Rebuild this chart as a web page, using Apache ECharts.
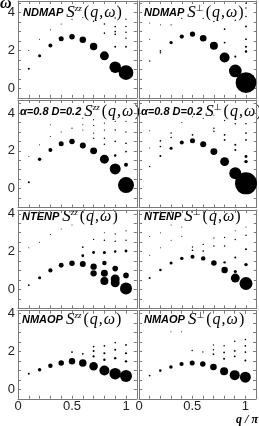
<!DOCTYPE html>
<html><head><meta charset="utf-8">
<script src="https://cdn.jsdelivr.net/npm/echarts@6/dist/echarts.min.js"></script>
<style>html,body{margin:0;padding:0;background:#fff}#c{width:259px;height:426px}</style>
</head><body><div id="c"></div>
<script>
// tick labels
const qTickLabels = [0, 0.5, 1];
const wTickLabels = [0, 2, 4];
// panel names
const models = ['NDMAP', 'NDMAP', 'α=0.8 D=0.2', 'α=0.8 D=0.2', 'NTENP', 'NTENP', 'NMAOP', 'NMAOP'];
const components = ['zz', '⊥', 'zz', '⊥', 'zz', '⊥', 'zz', '⊥'];
// points: [q/pi, omega, spectral weight]
const ndmapZZ = [
  [0.1,1.03,1],[0.2,1.72,2.3],[0.3,2.27,4],[0.4,2.62,6.3],[0.5,2.73,7.6],[0.6,2.57,10.5],[0.7,2.21,14],[0.8,1.72,20],[0.9,1.12,33],[1.0,0.83,54],
  [0.1,2.0,0.3],[0.2,2.6,0.3],[0.3,3.1,0.3],[0.4,3.4,0.3],[0.5,3.65,0.3],[0.6,3.75,0.3],[0.7,3.55,0.5],[0.8,3.4,0.6],[0.8,2.92,0.6],
  [0.9,3.72,0.5],[0.9,3.27,0.7],[0.9,3.0,0.7],[0.9,2.86,0.7],[0.9,2.2,0.8],
  [1.0,3.66,0.5],[1.0,3.27,0.6],[1.0,2.96,0.6],[1.0,2.65,0.6],[1.0,2.2,0.8]
];
const ndmapPerp = [
  [0.1,1.45,0.6],[0.2,1.98,0.6],[0.2,1.88,0.6],[0.3,2.42,2.7],[0.4,2.74,4.6],[0.5,2.87,7],[0.6,2.65,11],[0.7,2.25,16],[0.8,1.63,25],[0.9,0.92,40],[1.0,0.3,107],
  [0.1,3.45,0.2],[0.1,2.6,0.2],[0.2,3.36,0.3],[0.3,3.36,0.4],[0.4,3.7,0.3],[0.5,3.8,0.3],[0.6,3.7,0.3],[0.7,3.54,0.5],[0.8,3.13,0.7],[0.8,2.42,0.8],
  [0.9,3.6,0.5],[0.9,1.68,1.2],[1.0,4.5,0.5],[1.0,4.25,0.5],[1.0,3.8,0.6],[1.0,3.27,0.8],[1.0,2.6,0.8],[1.0,2.2,1.2],[1.0,1.95,1.5]
];
const anisoZZ = [
  [0.1,0.34,1],[0.2,1.56,3],[0.3,2.05,4],[0.4,2.37,6.3],[0.5,2.5,7.6],[0.6,2.28,9],[0.7,2.0,12],[0.8,1.56,20],[0.9,1.04,30],[1.0,0.19,64],
  [0.9,1.75,1.5],[1.0,1.26,4],
  [0.1,1.7,0.2],[0.2,2.32,0.3],[0.3,2.76,0.3],[0.3,3.38,0.2],[0.4,3.0,0.3],[0.5,3.2,0.3],[0.6,3.73,0.3],[0.6,3.38,0.3],[0.6,3.1,0.3],
  [0.7,3.65,0.3],[0.7,3.35,0.4],[0.7,2.94,0.4],[0.7,2.67,0.5],[0.8,3.47,0.4],[0.8,3.1,0.4],[0.8,2.67,0.5],[0.8,2.35,0.6],
  [0.9,3.56,0.4],[0.9,3.1,0.5],[0.9,2.5,0.6],[1.0,3.56,0.4],[1.0,3.0,0.5],[1.0,2.4,0.7],[1.0,1.96,0.8]
];
const anisoPerp = [
  [0.1,1.17,0.56],[0.2,1.73,1],[0.3,2.14,2.3],[0.4,2.44,4],[0.5,2.53,6.3],[0.6,2.35,9],[0.7,1.96,12],[0.8,1.43,20],[0.9,0.81,36],[1.0,0.28,121],
  [0.1,3.06,0.2],[0.1,2.15,0.2],[0.2,2.53,0.7],[0.2,2.23,0.7],[0.3,2.94,0.6],[0.3,2.71,0.6],[0.4,3.5,0.2],[0.5,2.85,0.8],[0.5,3.8,0.2],[0.6,3.72,0.3],
  [0.7,3.2,0.6],[0.7,3.03,0.6],[0.7,3.9,0.3],[0.8,3.6,0.5],[0.8,2.85,0.8],[0.8,2.58,0.8],[0.9,3.43,0.6],[0.9,2.32,1],[0.9,2.05,1],
  [1.0,3.43,0.6],[1.0,2.94,0.8],[1.0,2.58,0.8],[1.0,1.7,2],[1.0,1.43,3]
];
const ntenpZZ = [
  [0.1,0.22,0.8],[0.2,0.62,2.3],[0.3,1.0,4.5],[0.4,1.28,6],[0.5,1.38,7.5],[0.6,1.34,9],[0.7,1.2,10],[0.7,0.85,10],[0.8,0.85,12],[0.8,0.45,16],[0.9,0.55,20],[0.9,0.35,20],[1.0,0.05,36],
  [0.6,1.78,2],[0.6,2.24,0.8],[0.7,1.95,2],[0.7,2.64,0.4],[0.8,1.4,5],[0.8,1.95,2.5],[0.8,2.6,0.6],[0.8,3.0,0.3],
  [0.9,1.1,8],[0.9,2.0,1.5],[0.9,2.55,0.6],[0.9,2.93,0.4],[1.0,0.74,8],[1.0,2.03,2],[1.0,2.6,0.6],[1.0,3.1,0.4],
  [0.1,2.2,0.2],[0.2,2.5,0.2],[0.3,2.9,0.2],[0.4,3.2,0.2],[0.5,3.4,0.2]
];
const ntenpPerp = [
  [0.1,0.6,1],[0.2,1.03,1.6],[0.3,1.4,2.3],[0.4,1.64,3],[0.5,1.72,4],[0.6,1.64,5],[0.7,1.4,7.6],[0.8,1.03,10.5],[0.9,0.6,20],[1.0,0.31,42],
  [0.5,2.07,0.7],[0.5,2.24,0.5],[0.6,2.03,0.7],[0.6,2.38,0.5],[0.7,2.3,0.6],[0.7,2.72,0.4],[0.8,1.43,1.5],[0.8,2.3,0.6],[0.8,2.75,0.4],
  [0.9,0.95,2.3],[0.9,1.69,1],[0.9,2.64,0.5],[0.9,3.1,0.3],[1.0,1.31,3],[1.0,2.12,1],[1.0,2.86,0.6],[1.0,3.3,0.3],
  [0.1,1.8,0.1],[0.1,2.8,0.1],[0.2,2.2,0.1],[0.2,3.0,0.1],[0.3,2.6,0.1],[0.3,3.4,0.1],[0.4,2.8,0.1],[0.4,3.3,0.1]
];
const nmaopZZ = [
  [0.1,0.83,1],[0.2,1.04,3],[0.3,1.25,5],[0.4,1.39,7.6],[0.5,1.48,10.5],[0.6,1.39,14],[0.7,1.22,18],[0.8,1.0,25],[0.9,0.83,33],[1.0,0.7,36],
  [0.5,1.97,0.8],[0.6,1.88,0.8],[0.7,2.26,0.8],[0.7,2.03,1],[0.7,1.74,1.3],[0.8,2.3,0.8],[0.8,1.91,1.2],[0.8,1.57,1.5],
  [0.9,2.47,0.6],[0.9,2.09,1],[0.9,1.65,1.5],[1.0,2.35,0.8],[1.0,1.91,1.2],[1.0,1.48,1.5]
];
const nmaopPerp = [
  [0.1,0.73,0.8],[0.2,0.99,1.6],[0.3,1.18,3],[0.4,1.34,4.5],[0.5,1.39,6.3],[0.6,1.34,7.6],[0.7,1.18,11],[0.8,0.96,16],[0.9,0.75,25],[1.0,0.64,30],
  [0.3,3.04,0.1],[0.4,3.04,0.1],[0.5,2.05,0.5],[0.6,1.98,0.5],[0.7,2.35,0.5],[0.7,2.09,0.6],[0.7,1.86,0.7],[0.8,2.31,0.6],[0.8,1.95,0.8],[0.8,1.62,1],
  [0.9,2.54,0.6],[0.9,2.03,0.8],[0.9,1.74,0.8],[1.0,2.64,0.6],[1.0,2.3,0.8],[1.0,1.97,0.8],[1.0,1.53,1]
];
const panelData = [ndmapZZ, ndmapPerp, anisoZZ, anisoPerp, ntenpZZ, ntenpPerp, nmaopZZ, nmaopPerp];

// ---- layout (pixels) ----
const colLeft = [18, 139];
const colPx = [108, 107];           // px per unit q
const xMax = 1.1;
const pxPerW = 18.9;
const rows = [
  {top: 1,     min: -0.5, max: 4.62, titleY: 13},
  {top: 100,   min: -1,   max: 4.69, titleY: 112},
  {top: 210,   min: -1,   max: 4.2,  titleY: 217},
  {top: 310.7, min: -0.5, max: 4.16, titleY: 320}
];
const titleX = [[23, 144], [20, 141], [22, 144], [22, 144]];

const frameColor = '#7a7a7a';
const grids = [], xAxes = [], yAxes = [], series = [], graphics = [];
const r2 = v => Math.round(v * 100) / 100;

for (let p = 0; p < 8; p++) {
  const row = Math.floor(p / 2), col = p % 2;
  const R = rows[row];
  grids.push({left: colLeft[col], top: R.top, width: colPx[col] * xMax, height: (R.max - R.min) * pxPerW, containLabel: false});
  const tick = {show: true, inside: true, length: 3, lineStyle: {color: frameColor, width: 1}};
  const line = {show: true, onZero: false, lineStyle: {color: frameColor, width: 1}};
  xAxes.push({
    type: 'value', gridIndex: p, position: 'bottom', min: 0, max: xMax, interval: 0.1,
    axisLine: line, axisTick: tick, splitLine: {show: false},
    axisLabel: {show: row === 3, margin: 1, color: '#222', fontFamily: 'Liberation Sans', fontSize: 13,
      showMaxLabel: true, showMinLabel: true,
      formatter: v => qTickLabels.indexOf(r2(v)) >= 0 ? String(r2(v)) : ''}
  });
  xAxes.push({
    type: 'value', gridIndex: p, position: 'top', min: 0, max: xMax, interval: 0.1,
    axisLine: line, axisTick: tick, splitLine: {show: false}, axisLabel: {show: false}
  });
  yAxes.push({
    type: 'value', gridIndex: p, position: 'left', min: R.min, max: R.max, interval: 0.5,
    axisLine: line, axisTick: tick, splitLine: {show: false},
    axisLabel: {show: col === 0, margin: 3, color: '#222', fontFamily: 'Liberation Sans', fontSize: 13,
      formatter: v => wTickLabels.indexOf(r2(v)) >= 0 ? String(r2(v)) : ''}
  });
  yAxes.push({
    type: 'value', gridIndex: p, position: 'right', min: R.min, max: R.max, interval: 0.5,
    axisLine: line, axisTick: tick, splitLine: {show: false}, axisLabel: {show: false}
  });
  series.push({
    type: 'scatter', xAxisIndex: 2 * p, yAxisIndex: 2 * p, data: panelData[p],
    symbol: 'circle', symbolSize: v => Math.max(1, 2 * Math.sqrt(v[2])),
    itemStyle: {color: '#000', opacity: 1}, silent: true, animation: false
  });
  // title
  const comp = components[p];
  const supStyle = comp === 'zz'
    ? {fontFamily: 'Liberation Serif', fontStyle: 'italic', fontSize: 9, verticalAlign: 'top', padding: [0, 1, 6, 0], fill: '#000'}
    : {fontFamily: 'DejaVu Sans', fontSize: 9, verticalAlign: 'top', padding: [0, 1, 6, 0], fill: '#000'};
  graphics.push({
    type: 'text', x: titleX[row][col], y: R.titleY, silent: true,
    style: {
      text: '{n|' + models[p] + '}{s|S}{sup|' + comp + '}{p|(}{i|q}{p|,}{i|ω}{p|)}',
      verticalAlign: 'middle', align: 'left',
      rich: {
        n: {fontFamily: 'Liberation Sans', fontWeight: 'bold', fontStyle: 'italic', fontSize: 11, fill: '#000', padding: [0, 3, 0, 0]},
        s: {fontFamily: 'Liberation Serif', fontStyle: 'italic', fontSize: 17, fill: '#000'},
        sup: supStyle,
        p: {fontFamily: 'Liberation Serif', fontSize: 16, fill: '#000', padding: [0, 1, 0, 1]},
        i: {fontFamily: 'Liberation Serif', fontStyle: 'italic', fontSize: 16, fill: '#000'}
      }
    }
  });
}
graphics.push({type: 'text', x: 0, y: -4, silent: true,
  style: {text: 'ω', fontFamily: 'Liberation Serif', fontStyle: 'italic', fontWeight: 'bold', fontSize: 16, fill: '#000', verticalAlign: 'top'}});
graphics.push({type: 'text', x: 247, y: 420, silent: true,
  style: {text: 'q / π', fontFamily: 'Liberation Serif', fontStyle: 'italic', fontWeight: 'bold', fontSize: 12, fill: '#000', align: 'center', verticalAlign: 'middle'}});

const chart = echarts.init(document.getElementById('c'), null, {renderer: 'canvas', width: 259, height: 426});
chart.setOption({
  animation: false, backgroundColor: '#fff',
  grid: grids, xAxis: xAxes, yAxis: yAxes, series: series, graphic: graphics
});
</script></body></html>
